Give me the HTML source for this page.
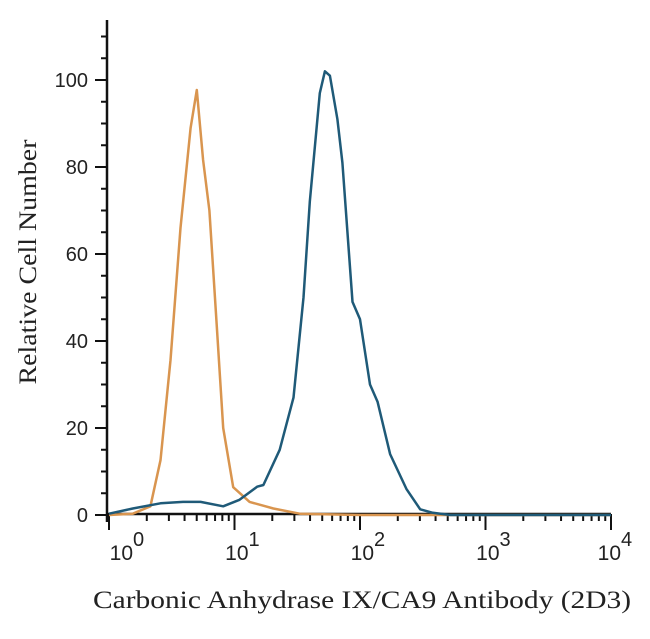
<!DOCTYPE html>
<html><head><meta charset="utf-8"><style>
body{margin:0;background:#fff;width:650px;height:634px;overflow:hidden}
svg text{font-family:"Liberation Sans",sans-serif;fill:#222}
</style></head><body>
<svg id="chart" width="650" height="634" viewBox="0 0 650 634"></svg>
<script>
const yTicks=[0,20,40,60,80,100];
const xDecades=[0,1,2,3,4];
const orangeLog=[0.0,0.19,0.33,0.41,0.49,0.57,0.65,0.70,0.75,0.80,0.86,0.91,0.99,1.12,1.31,1.52,2.0,4.0];
const orangeVal=[0,0.3,2,12.6,35.6,66,89,97.7,81.6,70,43,20,6.4,3,1.5,0.3,0,0];
const blueLog=[0.0,0.19,0.41,0.59,0.73,0.91,1.04,1.18,1.23,1.36,1.47,1.55,1.60,1.68,1.72,1.76,1.82,1.86,1.94,2.0,2.08,2.14,2.24,2.37,2.48,2.58,2.72,4.0];
const blueVal=[0.3,1.5,2.7,3,3,2,3.5,6.5,6.9,15,27,50,72,97,102,101,91,81,49,45,30,26,14,6,1.3,0.5,0,0];
const NS='http://www.w3.org/2000/svg';
const svg=document.getElementById('chart');
const X0=109,DEC=125.5,Y0=515,PPU=4.35;
const xs=l=>X0+l*DEC, ys=v=>Y0-v*PPU;
function el(t,a,p){const e=document.createElementNS(NS,t);for(const k in a)e.setAttribute(k,a[k]);(p||svg).appendChild(e);return e;}
const ya=el('g',{});


el('line',{x1:107,y1:20,x2:107,y2:522,stroke:'#111','stroke-width':2.5},ya);
for(let v=0;v<=110;v+=5){const major=v%20==0;el('line',{x1:major?95:101,x2:107,y1:ys(v),y2:ys(v),stroke:'#111','stroke-width':2},ya);}
yTicks.forEach(v=>{const t=el('text',{x:88,y:ys(v)+7,'text-anchor':'end','font-size':20},ya);t.textContent=v;

});
const xa=el('g',{});


el('line',{x1:107,y1:514,x2:611,y2:514,stroke:'#111','stroke-width':2.5},xa);
for(let d=0;d<4;d++)for(let m=2;m<=9;m++){const x=xs(d+Math.log10(m));el('line',{x1:x,x2:x,y1:514,y2:521,stroke:'#111','stroke-width':2},xa);}
xDecades.forEach(d=>{const x=xs(d);el('line',{x1:x,x2:x,y1:514,y2:530,stroke:'#111','stroke-width':2},xa);
const t=el('text',{x:x+(d==0?24:d==4?10:14),y:560,'text-anchor':'end','font-size':21},xa);t.textContent='10';


const s=el('text',{x:x+(d==0?24:d==4?10:14),y:546,'font-size':20},xa);s.textContent=d;

});
function series(L,V,c,name){const p=el('path',{d:L.map((l,i)=>(i?'L':'M')+xs(l).toFixed(1)+','+ys(V[i]).toFixed(1)).join(''),fill:'none',stroke:c,'stroke-width':2.5,'stroke-linejoin':'round'});

}
series(orangeLog,orangeVal,'#d9954f','isotype-control-histogram');
series(blueLog,blueVal,'#1f5a78','ca9-antibody-histogram');
const yt=el('text',{x:0,y:0,transform:'translate(36,262) rotate(-90)','text-anchor':'middle','font-size':25,textLength:245,lengthAdjust:'spacingAndGlyphs',style:'font-family:"Liberation Serif",serif'});yt.textContent='Relative Cell Number';


const xt=el('text',{x:362,y:608,'text-anchor':'middle','font-size':25,textLength:538,lengthAdjust:'spacingAndGlyphs',style:'font-family:"Liberation Serif",serif'});xt.textContent='Carbonic Anhydrase IX/CA9 Antibody (2D3)';


</script>
</body></html>
